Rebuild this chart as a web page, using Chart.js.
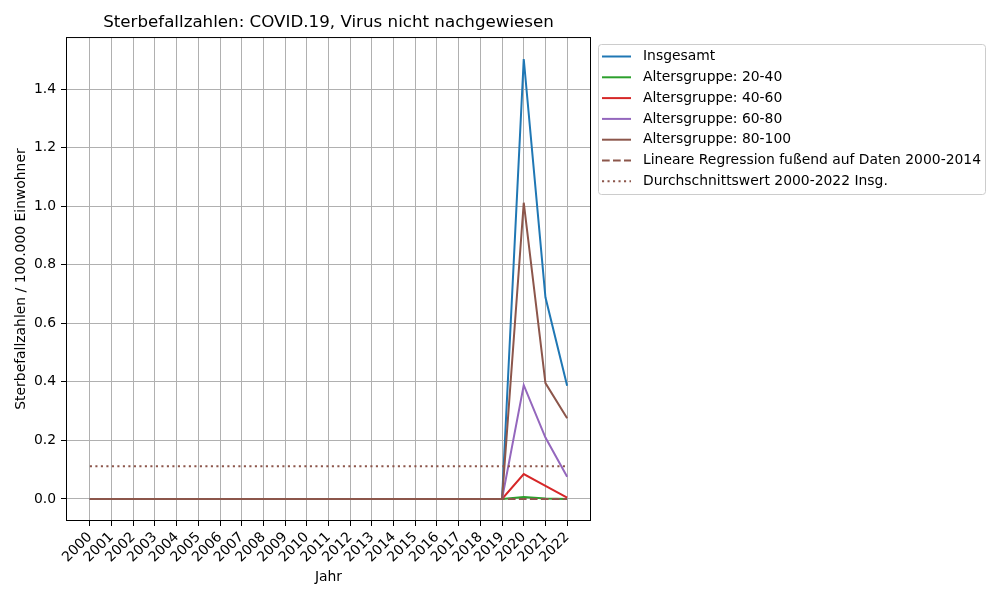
<!DOCTYPE html>
<html>
<head>
<meta charset="utf-8">
<script src="https://cdn.jsdelivr.net/npm/chart.js@4"></script>
<style>
  html, body { margin: 0; padding: 0; background: #fff; }
  #wrap { width: 1000px; height: 600px; }
</style>
</head>
<body>
<div id="wrap"><canvas id="deathChart" width="1000" height="600"></canvas></div>
<script>
const years = [2000, 2001, 2002, 2003, 2004, 2005, 2006, 2007, 2008, 2009, 2010, 2011,
               2012, 2013, 2014, 2015, 2016, 2017, 2018, 2019, 2020, 2021, 2022];
const zeros20 = [0, 0, 0, 0, 0, 0, 0, 0, 0, 0, 0, 0, 0, 0, 0, 0, 0, 0, 0, 0];

const insgesamt = zeros20.concat([1.503, 0.689, 0.387]);
const age20to40 = zeros20.concat([0.007, 0.002, 0.0]);
const age40to60 = zeros20.concat([0.085, 0.045, 0.005]);
const age60to80 = zeros20.concat([0.389, 0.21, 0.076]);
const age80to100 = zeros20.concat([1.012, 0.396, 0.276]);
const regression = [0, 0, 0, 0, 0, 0, 0, 0, 0, 0, 0, 0, 0, 0, 0, 0, 0, 0, 0, 0, 0, 0, 0];
const average = [0.112, 0.112, 0.112, 0.112, 0.112, 0.112, 0.112, 0.112, 0.112, 0.112, 0.112, 0.112,
                 0.112, 0.112, 0.112, 0.112, 0.112, 0.112, 0.112, 0.112, 0.112, 0.112, 0.112];
const yTicks = [0, 0.2, 0.4, 0.6, 0.8, 1.0, 1.2, 1.4];

const FONT = 'DejaVu Sans';

function pts(values) {
    return years.map((y, i) => ({ x: y, y: values[i] }));
}

const series = [
    { label: 'Insgesamt', data: insgesamt, color: '#1f77b4', dash: [] },
    { label: 'Altersgruppe: 20-40', data: age20to40, color: '#2ca02c', dash: [] },
    { label: 'Altersgruppe: 40-60', data: age40to60, color: '#d62728', dash: [] },
    { label: 'Altersgruppe: 60-80', data: age60to80, color: '#9467bd', dash: [] },
    { label: 'Altersgruppe: 80-100', data: age80to100, color: '#8c564b', dash: [] },
    { label: 'Lineare Regression fußend auf Daten 2000-2014', data: regression, color: '#8c564b', dash: [7.7, 3.3] },
    { label: 'Durchschnittswert 2000-2022 Insg.', data: average, color: '#8c564b', dash: [2.1, 3.4] }
];

// later series drawn on top, like the original
const datasets = series.map((s, i) => ({
    label: s.label,
    data: pts(s.data),
    borderColor: s.color,
    backgroundColor: s.color,
    borderWidth: 2,
    borderDash: s.dash,
    pointRadius: 0,
    tension: 0,
    fill: false,
    order: series.length - i
}));

// black frame around the plot area
const frame = {
    id: 'frame',
    afterDatasetsDraw(chart) {
        const a = chart.chartArea;
        const c = chart.ctx;
        c.save();
        c.strokeStyle = '#000';
        c.lineWidth = 1;
        c.strokeRect(a.left + 0.5, a.top + 0.5, a.right - a.left - 1, a.bottom - a.top - 1);
        c.restore();
    }
};

// legend outside the plot, top right
const sideLegend = {
    id: 'sideLegend',
    afterDraw(chart) {
        const c = chart.ctx;
        const x0 = 598, y0 = 44, w = 387, h = 150;
        c.save();
        c.fillStyle = 'rgba(255,255,255,0.8)';
        c.strokeStyle = '#cccccc';
        c.lineWidth = 1;
        c.beginPath();
        c.roundRect(x0 + 0.5, y0 + 0.5, w, h, 3);
        c.fill();
        c.stroke();
        c.font = '13.9px "' + FONT + '"';
        c.textBaseline = 'middle';
        chart.data.datasets.forEach((ds, i) => {
            const y = 56.5 + i * 20.8;
            c.strokeStyle = ds.borderColor;
            c.lineWidth = 2;
            c.setLineDash(ds.borderDash);
            c.beginPath();
            c.moveTo(602, y);
            c.lineTo(631, y);
            c.stroke();
            c.setLineDash([]);
            c.fillStyle = '#000';
            c.fillText(ds.label, 643, y);
        });
        c.restore();
    }
};

new Chart(document.getElementById('deathChart').getContext('2d'), {
    type: 'line',
    data: { datasets: datasets },
    options: {
        responsive: false,
        animation: false,
        devicePixelRatio: 1,
        layout: { padding: { left: 0, right: 409, top: 0, bottom: 0 } },
        plugins: {
            legend: { display: false },
            tooltip: { enabled: false },
            title: {
                display: true,
                fullSize: false,
                text: 'Sterbefallzahlen: COVID.19, Virus nicht nachgewiesen',
                color: '#000',
                font: { family: FONT, size: 16.7, weight: 'normal' },
                padding: { top: 13, bottom: 4 }
            }
        },
        scales: {
            x: {
                type: 'linear',
                min: 1998.9,
                max: 2023.1,
                afterBuildTicks: scale => { scale.ticks = years.map(v => ({ value: v })); },
                afterFit: scale => { scale.height = 79; },
                ticks: {
                    color: '#000',
                    font: { family: FONT, size: 13.9 },
                    minRotation: 45,
                    maxRotation: 45,
                    autoSkip: false,
                    padding: 3,
                    callback: v => String(v)
                },
                grid: { color: '#b0b0b0', lineWidth: 1, tickColor: '#000', tickLength: 5 },
                border: { display: false },
                title: {
                    display: true,
                    text: 'Jahr',
                    color: '#000',
                    font: { family: FONT, size: 13.9 },
                    padding: { top: 0, bottom: 14.7 }
                }
            },
            y: {
                min: -0.0752,
                max: 1.578,
                afterBuildTicks: scale => { scale.ticks = yTicks.map(v => ({ value: v })); },
                afterFit: scale => { scale.width = 66; },
                ticks: {
                    color: '#000',
                    font: { family: FONT, size: 13.9 },
                    padding: 5,
                    callback: v => v.toFixed(1)
                },
                grid: { color: '#b0b0b0', lineWidth: 1, tickColor: '#000', tickLength: 5 },
                border: { display: false },
                title: {
                    display: true,
                    text: 'Sterbefallzahlen / 100.000 Einwohner',
                    color: '#000',
                    font: { family: FONT, size: 13.9 },
                    padding: { top: 12.7, bottom: 0 }
                }
            }
        }
    },
    plugins: [frame, sideLegend]
});
</script>
</body>
</html>
